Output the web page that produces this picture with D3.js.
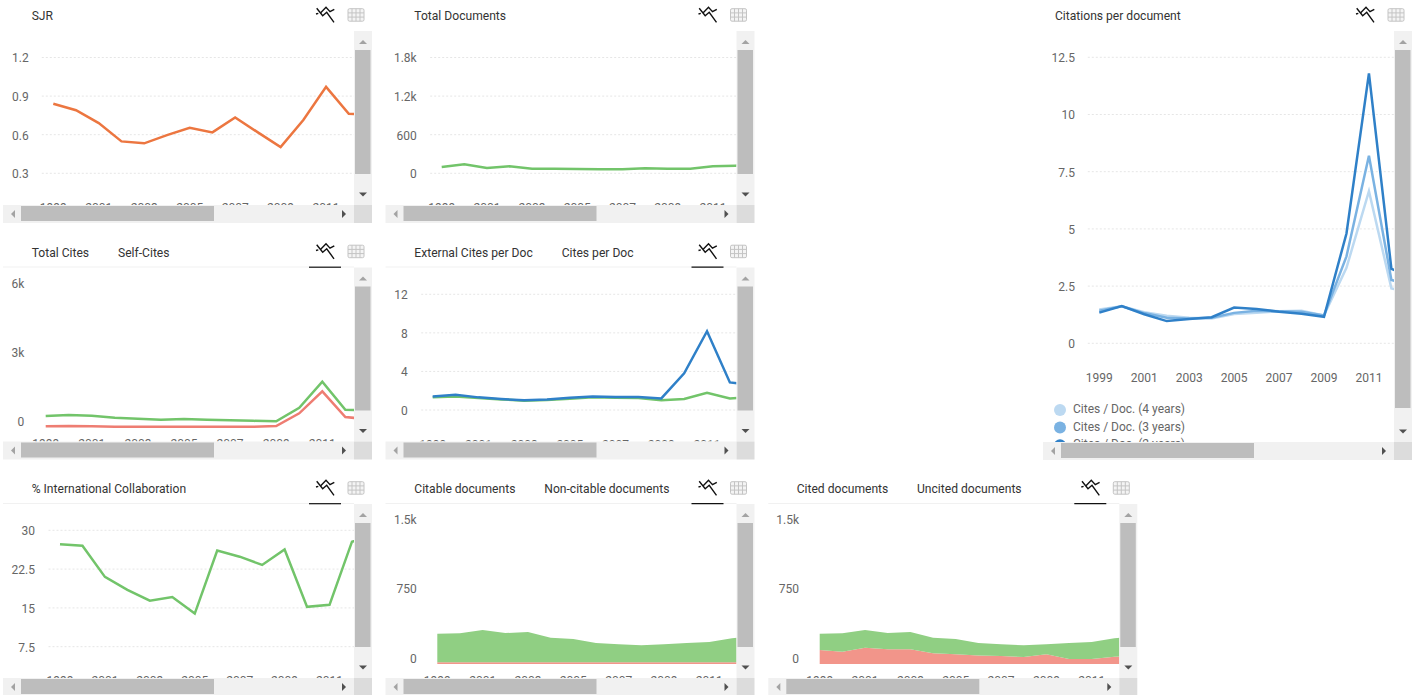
<!DOCTYPE html>
<html>
<head>
<meta charset="utf-8">
<script src="https://cdn.jsdelivr.net/npm/d3@7"></script>
<style>
html,body{margin:0;padding:0;background:#fff;overflow:hidden}
svg{display:block}
text{font-family:Roboto,sans-serif}
</style>
</head>
<body>
<svg id="c" width="1421" height="695"></svg>
<script>
// ---------- data ----------
const years = [1999,2000,2001,2002,2003,2004,2005,2006,2007,2008,2009,2010,2011,2012,2013];
const oddYears = [1999,2001,2003,2005,2007,2009,2011];

const sjr = [0.84,0.79,0.69,0.548,0.533,0.597,0.654,0.618,0.734,0.618,0.504,0.714,0.972,0.763,0.75];
const totalDocuments = [98,140,83,109,72,72,67,62,62,78,72,72,109,119,125];
const totalCites = [500,543,513,424,380,337,370,337,310,290,270,860,1990,770,745];
const selfCites = [52,65,52,35,35,35,35,35,30,30,65,617,1574,456,356];
const externalCitesPerDoc = [1.31,1.41,1.24,1.1,0.97,1.03,1.17,1.31,1.28,1.24,1,1.14,1.79,1.2,1.35];
const citesPerDoc = [1.41,1.59,1.31,1.14,1,1.1,1.28,1.41,1.34,1.34,1.2,3.8,8.17,2.86,2.6];
const cites4 = [1.48,1.62,1.36,1.2,1.12,1.08,1.28,1.34,1.4,1.42,1.22,3.3,6.65,2.4,2.2];
const cites3 = [1.42,1.62,1.32,1.12,1.08,1.12,1.33,1.42,1.4,1.38,1.22,3.8,8.2,2.77,2.5];
const cites2 = [1.34,1.63,1.27,0.97,1.06,1.14,1.56,1.5,1.38,1.29,1.16,4.8,11.8,3.25,2.9];
const intlCollab = [27.3,27,21,18.5,16.4,17.1,13.9,26.1,24.9,23.3,26.3,15.2,15.6,27.8,29];
const citableDocs = [307,311,347,314,325,264,250,207,192,181,192,207,217,257,280];
const nonCitableDocs = [20,20,20,20,20,20,20,20,20,20,20,20,20,20,20];
const citedDocs = [176,198,191,176,187,169,166,134,126,126,108,173,183,198,210];
const uncitedDocs = [151,133,176,158,158,115,104,93,86,75,104,54,54,79,90];

const legend4 = "Cites / Doc. (4 years)", legend3 = "Cites / Doc. (3 years)", legend2 = "Cites / Doc. (2 years)";

// ---------- palette ----------
const ORANGE="#ec7640", GREEN="#72c46a", RED="#ee7d72", BLUE="#2f80c8", BLUE3="#7ab2e2", BLUE4="#bcd9f1";
const AREA_GREEN="#90cf83", AREA_RED="#f2958a";
const k = v => v===0 ? "0" : (v>=1000 ? (v/1000)+"k" : String(v));

// ---------- panel layout ----------
const panels = [
 {L:3, T:31, H:192, tabs:[["SJR",31.7]], labelEnd:28.7, x0:53.3, step:22.73,
  ticks:[0.3,0.6,0.9,1.2], dom:[0.3,1.2], rng:[173.3,57.5], fmt:String, grid:true, shift:1, xBase:212,
  lines:[[sjr,ORANGE]]},
 {L:385.5, T:31, H:192, tabs:[["Total Documents",414.3]], labelEnd:416.7, x0:441.7, step:22.6,
  ticks:[0,600,1200,1800], dom:[0,1800], rng:[173.3,57.5], fmt:k, grid:true, shift:1, xBase:212,
  lines:[[totalDocuments,GREEN]]},
 {L:3, T:267.5, H:192, active:true, tabs:[["Total Cites",31.7],["Self-Cites",118]], labelEnd:24.3, x0:45.7, step:23.05,
  ticks:[0,3000,6000], dom:[0,6000], rng:[427.5,289.5], fmt:k, grid:false, shift:-5.8, xBase:447.5,
  lines:[[totalCites,GREEN],[selfCites,RED]]},
 {L:385.5, T:267.5, H:192, active:true, tabs:[["External Cites per Doc",414.3],["Cites per Doc",561.7]], labelEnd:407.7, x0:432.7, step:22.86,
  ticks:[0,4,8,12], dom:[0,12], rng:[410,294.3], fmt:String, grid:true, shift:1, xBase:448.5,
  lines:[[externalCitesPerDoc,GREEN],[citesPerDoc,BLUE]]},
 {L:1043, T:31, H:429, vThumbEnd:408, tabs:[["Citations per document",1055]], labelEnd:1075, x0:1099.3, step:22.47,
  ticks:[0,2.5,5,7.5,10,12.5], dom:[0,12.5], rng:[343.3,57.3], fmt:String, grid:true, shift:1, xBase:382,
  lines:[[cites4,BLUE4],[cites3,BLUE3],[cites2,BLUE]],
  legend:[[legend4,BLUE4],[legend3,BLUE3],[legend2,BLUE]], legendX:1060, legendY:410, legendGap:17.6},
 {L:3, T:504, H:192, active:true, tabs:[["% International Collaboration",31.7]], labelEnd:35, x0:60, step:22.46,
  ticks:[7.5,15,22.5,30], dom:[7.5,30], rng:[646.7,530.3], fmt:String, grid:true, shift:1, xBase:684.7,
  lines:[[intlCollab,GREEN]]},
 {L:385.5, T:504, H:192, active:true, tabs:[["Citable documents",414.3],["Non-citable documents",544.3]], labelEnd:416.7, x0:437.3, step:22.67,
  ticks:[0,750,1500], dom:[0,1500], rng:[664,525], fmt:k, grid:false, shift:-5, xBase:684.7,
  stack:[[nonCitableDocs,AREA_RED],[citableDocs,AREA_GREEN]]},
 {L:768.3, T:504, H:192, active:true, tabs:[["Cited documents",796.7],["Uncited documents",917]], labelEnd:799, x0:819.7, step:22.67,
  ticks:[0,750,1500], dom:[0,1500], rng:[664,525], fmt:k, grid:false, shift:-5, xBase:684.7,
  stack:[[uncitedDocs,AREA_RED],[citedDocs,AREA_GREEN]]}
];

const VW = 351, BAR = 18;
const svg = d3.select("#c");
const defs = svg.append("defs");

panels.forEach((p,i)=>{
  const {L,T,H} = p;
  const bottom = T+H-BAR;
  const g = svg.append("g");

  // header
  const titleY = T - (p.active ? 15 : 15.5);
  p.tabs.forEach(([t,x])=>{
    g.append("text").attr("x",x).attr("y",titleY).attr("dy","0.35em")
      .attr("font-size",12.1).attr("fill","#333").text(t);
  });
  if(p.active){
    g.append("line").attr("x1",L).attr("x2",L+VW).attr("y1",T-0.5).attr("y2",T-0.5).attr("stroke","#f1f1f1");
    g.append("line").attr("x1",L+306).attr("x2",L+338).attr("y1",T-0.3).attr("y2",T-0.3).attr("stroke","#111").attr("stroke-width",1.2);
  }
  // chart icon
  const ic = g.append("g").attr("transform",`translate(${L+313},${T-24})`)
     .attr("fill","none").attr("stroke","#111").attr("stroke-width",1.4);
  ic.append("path").attr("d","M0.7,1.3 L6.7,8.7 L10.7,5.3 L18,15.3");
  ic.append("path").attr("d","M0,7 L2.3,6.3 M4.7,5.7 L10,0.3 L14,4.7 L18.3,2.3");
  // table icon
  const tb = g.append("g").attr("transform",`translate(${L+345},${T-22.3})`)
     .attr("fill","none").attr("stroke","#c4c4c4");
  tb.append("rect").attr("x",0).attr("y",0).attr("width",16).attr("height",12.5).attr("rx",1.5).attr("fill","#f4f4f4");
  [4,8,12].forEach(x=>tb.append("line").attr("x1",x).attr("x2",x).attr("y1",0).attr("y2",12.5));
  [4.2,8.4].forEach(y=>tb.append("line").attr("x1",0).attr("x2",16).attr("y1",y).attr("y2",y));

  // clipped chart viewport
  const id = "clip"+i;
  defs.append("clipPath").attr("id",id).append("rect")
     .attr("x",L).attr("y",T).attr("width",VW).attr("height",H-BAR);
  const view = g.append("g").attr("clip-path",`url(#${id})`);

  const x = d3.scaleLinear().domain([years[0],years[13]]).range([p.x0,p.x0+13*p.step]);
  const y = d3.scaleLinear().domain(p.dom).range(p.rng);

  if(p.grid){
    view.append("g").selectAll("line").data(p.ticks).join("line")
      .attr("x1",p.x0-11.5).attr("x2",L+VW)
      .attr("y1",d=>y(d)).attr("y2",d=>y(d))
      .attr("stroke","#e6e6e6").attr("stroke-dasharray","2,2");
  }

  if(p.stack){
    const rows = years.map((yr,j)=>({year:yr,a:p.stack[0][0][j],b:p.stack[1][0][j]}));
    const layers = d3.stack().keys(["a","b"])(rows);
    const area = d3.area().x((d,j)=>x(years[j])).y0(d=>y(d[0])).y1(d=>y(d[1]));
    view.selectAll(".layer").data(layers).join("path").attr("class","layer")
      .attr("d",area).attr("fill",(d,j)=>p.stack[j][1]);
  }
  if(p.lines){
    const line = d3.line().x((d,j)=>x(years[j])).y(d=>y(d));
    p.lines.forEach(([vals,col])=>{
      view.append("path").datum(vals).attr("d",line).attr("fill","none")
        .attr("stroke",col).attr("stroke-width",2.5).attr("stroke-linejoin","miter");
    });
  }

  // axes
  const ay = view.append("g").attr("transform",`translate(${p.labelEnd},${p.shift})`)
    .call(d3.axisLeft(y).tickValues(p.ticks).tickFormat(p.fmt).tickSize(0).tickPadding(0).offset(0));
  const ax = view.append("g").attr("transform",`translate(0,${p.xBase-8.5})`)
    .call(d3.axisBottom(x).tickValues(oddYears).tickFormat(d3.format("d")).tickSize(0).tickPadding(0).offset(0));
  [ay,ax].forEach(a=>{
    a.select(".domain").remove();
    a.selectAll("text").attr("fill","#666").style("font-size","12px").style("font-family","Roboto,sans-serif");
  });

  if(p.legend){
    p.legend.forEach(([t,c],j)=>{
      const ly = p.legendY + j*p.legendGap;
      view.append("circle").attr("cx",p.legendX).attr("cy",ly).attr("r",6).attr("fill",c);
      view.append("text").attr("x",p.legendX+13).attr("y",ly-1.2).attr("dy","0.35em")
        .attr("font-size",12).attr("fill","#666").text(t);
    });
  }

  // scrollbars
  const sb = g.append("g");
  const vX = L+VW;
  sb.append("rect").attr("x",vX).attr("y",T).attr("width",BAR).attr("height",H-BAR).attr("fill","#f1f1f1");
  sb.append("rect").attr("x",L).attr("y",bottom).attr("width",VW).attr("height",BAR).attr("fill","#f1f1f1");
  sb.append("rect").attr("x",vX).attr("y",bottom).attr("width",BAR).attr("height",BAR).attr("fill","#dcdcdc");
  const vEnd = p.vThumbEnd || (T+143);
  sb.append("rect").attr("x",vX+1).attr("y",T+19).attr("width",15.5).attr("height",vEnd-T-19).attr("fill","#bdbdbd");
  sb.append("rect").attr("x",L+18).attr("y",bottom+1).attr("width",193).attr("height",15).attr("fill","#bdbdbd");
  const cx = vX+9, cy = bottom+9;
  sb.append("path").attr("d",`M${cx-4},${T+13} L${cx+4},${T+13} L${cx},${T+9} Z`).attr("fill","#a3a3a3");
  sb.append("path").attr("d",`M${cx-4},${bottom-12.5} L${cx+4},${bottom-12.5} L${cx},${bottom-8.5} Z`).attr("fill","#505050");
  sb.append("path").attr("d",`M${L+12},${cy-4} L${L+12},${cy+4} L${L+8},${cy} Z`).attr("fill","#a3a3a3");
  sb.append("path").attr("d",`M${L+339},${cy-4} L${L+339},${cy+4} L${L+343},${cy} Z`).attr("fill","#505050");
});
</script>
</body>
</html>
